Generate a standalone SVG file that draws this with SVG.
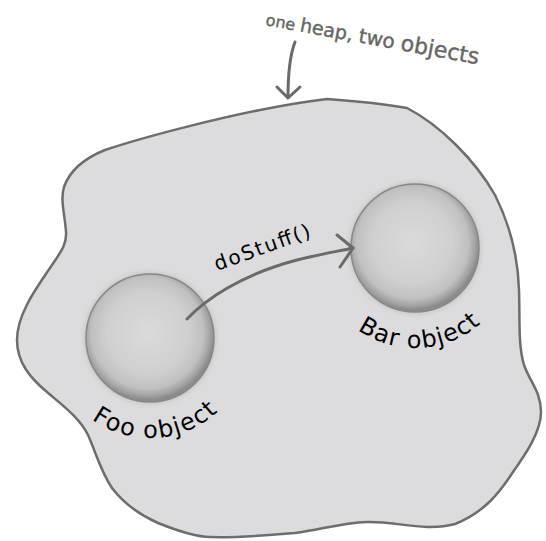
<svg xmlns="http://www.w3.org/2000/svg" width="546" height="541" viewBox="0 0 546 541">
<style>
.outline{fill:#dcdcde;stroke:#6d6d6d;stroke-width:2.5;stroke-linejoin:round}
.ink{fill:none;stroke:#6a6a6a;stroke-width:3;stroke-linecap:round;stroke-linejoin:round}
.note{font-family:"DejaVu Sans",sans-serif;fill:#666;stroke:#666;stroke-width:0.4}
.label{font-family:"DejaVu Sans",sans-serif;fill:#000}
.sphere{fill:url(#sph);stroke:#888;stroke-width:1.5}
.halo{fill:#c6c6c6;filter:url(#soft)}
</style>
<defs>
<radialGradient id="sph" cx="0.48" cy="0.46" r="0.52">
<stop offset="0" stop-color="#dadada"/>
<stop offset="0.6" stop-color="#d0d0d0"/>
<stop offset="0.84" stop-color="#c0c0c0"/>
<stop offset="0.95" stop-color="#a0a0a0"/>
<stop offset="1" stop-color="#8c8c8c"/>
</radialGradient>
<filter id="soft" x="-20%" y="-20%" width="140%" height="140%"><feGaussianBlur stdDeviation="2.5"/></filter>
<path id="fooArc" d="M83.1,412.3 A100,100 0 0 0 228.8,399.6"/>
<path id="barArc" d="M348.1,322.3 A100,100 0 0 0 493.8,309.6"/>
</defs>
<g id="heap">
<path class="outline" d="M327,99 C355,101 385,104 407,108 C440,125 475,160 495,195 C510,225 518,255 519,290 C520,320 518,345 524,365 C530,382 541,392 541,412 C541,432 525,455 513,472 C500,492 485,512 455,524 C425,532 395,521 367,522 C340,523 320,530 295,533 C270,535 240,538 210,537 C195,537 178,531 158,523 C140,515 125,505 112,488 C100,470 95,450 88,435 C80,418 62,405 47,392 C30,378 17,362 17,340 C17,315 35,290 50,268 C60,253 67,245 66,232 C65,215 60,200 64,187 C70,170 85,158 105,150 C150,135 220,118 260,110 C290,104 310,101 327,99 Z"/>
</g>
<g id="annotation">
<text class="note" transform="translate(265,25) rotate(10.5)"><tspan font-size="16">one </tspan><tspan font-size="19">heap, </tspan><tspan font-size="20">two </tspan><tspan font-size="22">objects</tspan></text>
<path class="ink" d="M295,42 C290,55 288,75 288,97"/>
<polyline class="ink" points="277,87 288,98 300,87"/>
</g>
<g id="foo">
<circle class="halo" cx="150" cy="338" r="66"/>
<circle class="sphere" cx="150" cy="338" r="64"/>
<text class="label" font-size="24" letter-spacing="1.4"><textPath href="#fooArc" startOffset="11">Foo object</textPath></text>
</g>
<g id="bar">
<circle class="halo" cx="415" cy="248" r="66"/>
<circle class="sphere" cx="415" cy="248" r="64"/>
<text class="label" font-size="24" letter-spacing="1.1"><textPath href="#barArc" startOffset="12">Bar object</textPath></text>
</g>
<g id="connectors">
<path class="ink" d="M187,319 C205,300 240,275 297,260 C320,254 340,251 353,248" stroke-width="2.5"/>
<polyline class="ink" points="337,235 353,248 340,267" stroke-width="2.8"/>
<text class="label" font-size="20" transform="translate(217,271) rotate(-20)" textLength="101">doStuff()</text>
</g>
</svg>
